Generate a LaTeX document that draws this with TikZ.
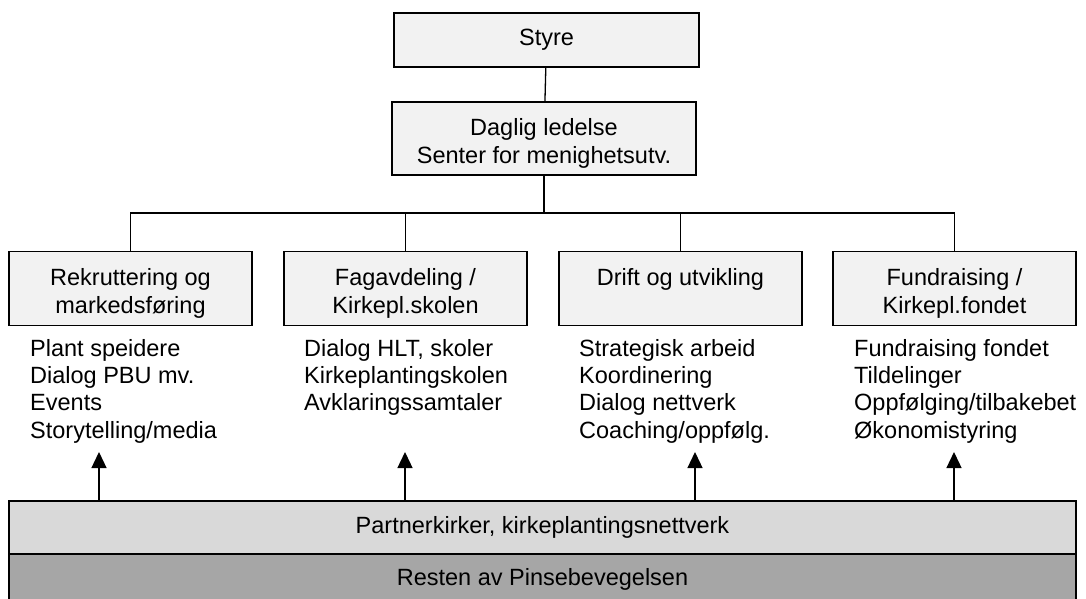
\documentclass[tikz,border=0pt]{standalone}
\usepackage{fontspec}
\setmainfont{Liberation Sans}
\usetikzlibrary{arrows.meta}
\newcommand{\hev}{\rule{0pt}{27pt}}
\begin{document}
\begin{tikzpicture}[x=1pt, y=-1pt,
        boks/.style={draw, line width=1.4pt, align=center, fill=gray!10,
        minimum width=243pt, minimum height=74pt, inner sep=0pt,
        font=\fontsize{23.5}{28}\selectfont},
        liste/.style={anchor=north west, align=left, inner sep=0pt,
        font=\fontsize{23.5}{27.3}\selectfont},
        lag/.style={draw, line width=1.4pt, minimum width=1067pt, inner sep=0pt,
        font=\fontsize{23.5}{28}\selectfont},
        linje/.style={line width=1.3pt},
        pil/.style={line width=1.3pt, -{Triangle[width=15pt,length=16pt]}}
    ]
        \useasboundingbox (0,0) rectangle (1086,599);
        \node[boks, minimum width=305pt, minimum height=54pt] (styre) at (546.5,40) {Styre};
        \node[boks, minimum width=304pt, minimum height=73pt] (daglig) at (544,138.5)
        {\hev Daglig ledelse\\Senter for menighetsutv.};
        \node[boks] (rekr) at (130.5,288.5) {\hev Rekruttering og\\markedsføring};
        \node[boks] (fag) at (405.5,288.5) {\hev Fagavdeling /\\Kirkepl.skolen};
        \node[boks] (drift) at (680.5,288.5) {\hev Drift og utvikling\\\vphantom{g}};
        \node[boks] (fund) at (954.5,288.5) {\hev Fundraising /\\Kirkepl.fondet};
        \node[liste] (lrekr) at (30,339)
        {Plant speidere\\Dialog PBU mv.\\Events\\Storytelling/media};
        \node[liste] (lfag) at (304,339)
        {Dialog HLT, skoler\\Kirkeplantingskolen\\Avklaringssamtaler};
        \node[liste] (ldrift) at (579,339)
        {Strategisk arbeid\\Koordinering\\Dialog nettverk\\Coaching/oppfølg.};
        \node[liste] (lfund) at (854,339)
        {Fundraising fondet\\Tildelinger\\Oppfølging/tilbakebet\\Økonomistyring};
        \node[lag, fill=gray!30, minimum height=53pt] (partner) at (542.5,527.5)
        {Partnerkirker, kirkeplantingsnettverk};
        \node[lag, fill=gray!70, minimum height=51pt] (resten) at (542.5,579.5)
        {Resten av Pinsebevegelsen};
        % linjer i organisasjonskartet
        \coordinate (grein) at (544,213);
        \draw[linje] (styre) -- (daglig);
        \draw[line width=2.5pt] (daglig) -- (grein);
        \draw[linje] (rekr.north) |- (grein) -| (fund.north);
        \draw[linje] (fag.north) -- (fag.north |- grein);
        \draw[linje] (drift.north) -- (drift.north |- grein);
        % piler fra partnerkirkene
        \coordinate (p1) at (99,452);
        \coordinate (p2) at (405,452);
        \coordinate (p3) at (695,452);
        \coordinate (p4) at (954,452);
        \foreach \p in {p1,p2,p3,p4}
            \draw[pil] (\p |- partner.north) -- (\p);
    \end{tikzpicture}
\end{document}
